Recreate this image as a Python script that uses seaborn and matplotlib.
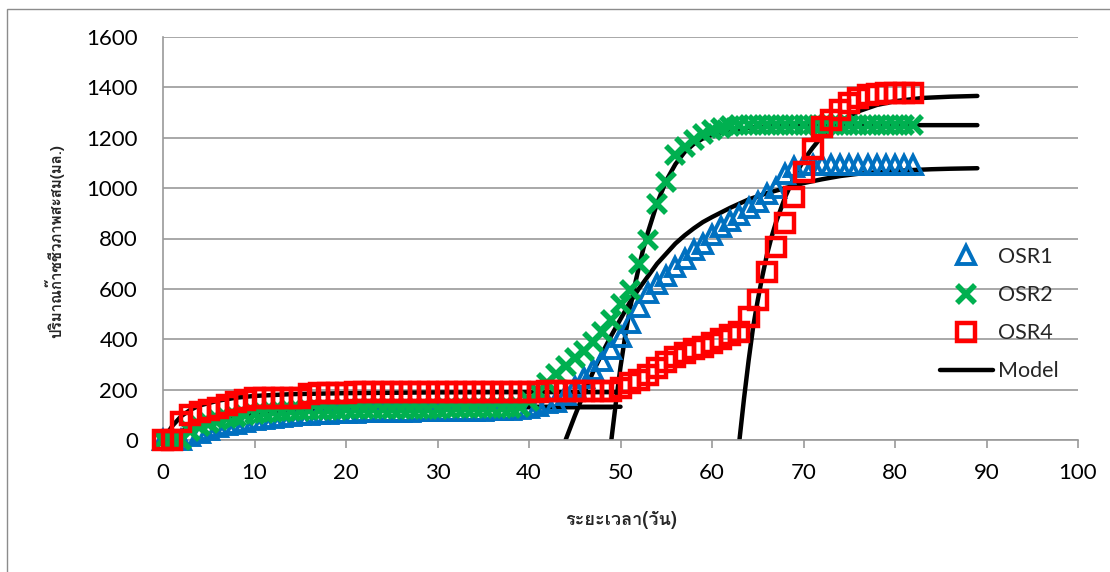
import matplotlib
matplotlib.use("Agg")
import matplotlib.pyplot as plt
from matplotlib import font_manager
from matplotlib.ft2font import FT2Font
from matplotlib.patches import Rectangle
from matplotlib.lines import Line2D
import seaborn as sns

# ---- measured cumulative biogas (ml) per day ----
days = list(range(0, 83))

osr1 = [0, 0, 0, 15, 28, 40, 50, 58, 65, 72,
        78, 83, 87, 91, 95, 98, 101, 103, 105, 107,
        108, 109, 110, 111, 112, 112, 113, 113, 114, 114,
        115, 115, 116, 116, 117, 117, 118, 119, 120, 123,
        128, 135, 145, 152, 180, 210, 245, 278, 315, 360,
        410, 465, 530, 585, 620, 650, 685, 720, 755, 780,
        815, 845, 870, 895, 920, 945, 975, 1000, 1055, 1085,
        1090, 1090, 1090, 1090, 1090, 1090, 1090, 1090, 1090, 1090,
        1090, 1090, 1090]

osr2 = [0, 0, 0, 35, 55, 68, 78, 86, 93, 99,
        104, 107, 110, 112, 114, 116, 118, 119, 120, 121,
        122, 122, 123, 123, 123, 124, 124, 124, 125, 125,
        125, 126, 126, 126, 127, 127, 127, 127, 128, 132,
        155, 190, 228, 262, 295, 325, 355, 390, 430, 476,
        540, 595, 700, 795, 935, 1025, 1130, 1165, 1190, 1215,
        1230, 1238, 1245, 1250, 1250, 1250, 1250, 1250, 1250, 1250,
        1250, 1250, 1250, 1250, 1250, 1250, 1250, 1250, 1250, 1250,
        1250, 1250, 1250]

osr4 = [0, 0, 73, 100, 113, 118, 128, 140, 150, 160,
        166, 166, 167, 167, 168, 168, 184, 186, 187, 188,
        188, 189, 189, 189, 190, 190, 190, 190, 190, 190,
        191, 191, 191, 191, 191, 192, 192, 192, 192, 192,
        192, 192, 193, 193, 193, 193, 193, 193, 193, 193,
        205, 225, 240, 260, 285, 310, 330, 345, 360, 370,
        385, 400, 415, 428, 490, 556, 668, 767, 860, 965,
        1065, 1157, 1243, 1270, 1310, 1336, 1356, 1370, 1375, 1376,
        1376, 1376, 1376]

# ---- fitted model curves (two phases per reactor) ----
m1a_x = [0, 2, 4, 6, 8, 10, 14, 18, 24, 30, 40, 50]
m1a_y = [0, 30, 55, 75, 90, 100, 113, 121, 127, 130, 132, 132]
m2a_x = [0, 2, 4, 6, 8, 10, 14, 18, 24, 30, 40, 49]
m2a_y = [0, 35, 62, 82, 96, 106, 116, 122, 126, 128, 130, 130]
m4a_x = [0, 1, 2, 3, 4, 6, 8, 10, 14, 20, 30, 40, 50]
m4a_y = [0, 55, 95, 120, 137, 156, 168, 175, 182, 186, 189, 190, 190]

m1b_x = [44, 45, 46, 47, 48, 49, 50, 51, 52, 53, 54, 55, 56, 57, 58, 59, 60,
         62, 64, 66, 68, 70, 72, 74, 76, 78, 80, 82, 84, 86, 89]
m1b_y = [0, 95, 185, 270, 345, 415, 480, 545, 600, 650, 700, 740, 780, 812,
         840, 865, 885, 922, 955, 980, 1000, 1020, 1035, 1048, 1057, 1063,
         1068, 1072, 1075, 1077, 1079]
m2b_x = [49, 49.5, 50, 50.5, 51, 51.5, 52, 52.5, 53, 54, 55, 56, 57, 58, 59,
         60, 62, 64, 66, 70, 75, 80, 89]
m2b_y = [0, 150, 290, 410, 515, 605, 685, 760, 825, 940, 1030, 1095, 1143,
         1175, 1197, 1212, 1230, 1240, 1245, 1249, 1250, 1250, 1250]
m4b_x = [63, 63.5, 64, 64.5, 65, 65.5, 66, 66.5, 67, 68, 69, 70, 71, 72, 74,
         76, 78, 80, 83, 86, 89]
m4b_y = [0, 165, 315, 450, 555, 650, 735, 805, 865, 965, 1045, 1110, 1160,
         1205, 1265, 1305, 1330, 1345, 1358, 1363, 1366]

series_labels = ["OSR1", "OSR2", "OSR4", "Model"]
x_ticks = list(range(0, 101, 10))
y_ticks = list(range(0, 1601, 200))
x_title = "ระยะเวลา(วัน)"
y_title = "ปริมาณก๊าซชีวภาพสะสม(มล.)"

BLUE = "#0070C0"
GREEN = "#00B050"
RED = "#FF0000"
GRID = "#9a9a9a"

TRI = dict(marker="^", markersize=13, markeredgewidth=2.8,
           markerfacecolor="none", markeredgecolor=BLUE)
CROSS = dict(marker="x", markersize=13.5, markeredgewidth=4.0,
             markeredgecolor=GREEN)
SQUARE = dict(marker="s", markersize=13.5, markeredgewidth=3.2,
              markerfacecolor="none", markeredgecolor=RED)


def thai_family():
    """Return the name of an installed font that can draw Thai."""
    for f in font_manager.fontManager.ttflist:
        try:
            cmap = FT2Font(f.fname).get_charmap()
        except Exception:
            continue
        if 0x0E1B in cmap and 0x0E32 in cmap:
            return f.name
    return "DejaVu Sans"


sns.set_theme(style="white")
plt.rcParams["font.family"] = ["Lato", "DejaVu Sans"]
thai = thai_family()

W, H = 1110, 572
fig = plt.figure(figsize=(W / 100, H / 100), dpi=100)
fig.patch.set_facecolor("white")

# chart border
fig.patches.append(Rectangle((7 / W, -0.05), 1.2, 1 - 9 / H + 0.05,
                             transform=fig.transFigure, fill=False,
                             edgecolor="#8c8c8c", lw=1.0))

ax = fig.add_axes([163 / W, 1 - 440 / H, (1078 - 163) / W, (440 - 37) / H])
ax.set_facecolor("white")

# model lines underneath the measured markers
for mx, my in [(m1a_x, m1a_y), (m2a_x, m2a_y), (m4a_x, m4a_y),
               (m1b_x, m1b_y), (m2b_x, m2b_y), (m4b_x, m4b_y)]:
    sns.lineplot(x=mx, y=my, ax=ax, color="black", lw=3.2,
                 solid_capstyle="round", zorder=2, legend=False)

common = dict(linestyle="", clip_on=False, legend=False)
sns.lineplot(x=days, y=osr1, ax=ax, color=BLUE, zorder=3, **TRI, **common)
sns.lineplot(x=days, y=osr2, ax=ax, color=GREEN, zorder=4, **CROSS, **common)
sns.lineplot(x=days, y=osr4, ax=ax, color=RED, zorder=5, **SQUARE, **common)

ax.set_xlim(0, 100)
ax.set_ylim(0, 1600)
ax.set_xticks(x_ticks)
ax.set_yticks(y_ticks)
ax.set_xticklabels([str(t) for t in x_ticks])
ax.set_yticklabels([str(t) for t in y_ticks])
ax.set_xlabel("")
ax.set_ylabel("")

ax.set_axisbelow(True)
ax.yaxis.grid(True, color=GRID, lw=1.2)
ax.xaxis.grid(False)
for side in ["top", "right"]:
    ax.spines[side].set_visible(False)
for side in ["left", "bottom"]:
    ax.spines[side].set_color(GRID)
    ax.spines[side].set_linewidth(1.2)

ax.tick_params(axis="x", length=5.8, width=1.2, color=GRID, pad=11,
               labelsize=16, labelcolor="black", direction="out", bottom=True)
ax.tick_params(axis="y", length=0, pad=18, labelsize=16, labelcolor="black")

# axis titles
fig.text(54 / W, 1 - 241 / H, y_title, rotation=90, ha="center", va="center",
         fontsize=10.8, fontweight="bold", family=[thai, "DejaVu Sans"])
fig.text(621 / W, 1 - 520 / H, x_title, ha="center", va="center",
         fontsize=13, fontweight="bold", family=[thai, "DejaVu Sans"])

# legend
handles = [
    Line2D([], [], ls="", **TRI),
    Line2D([], [], ls="", **CROSS),
    Line2D([], [], ls="", **SQUARE),
    Line2D([], [], color="black", lw=3.2, solid_capstyle="round"),
]
ax.legend(handles, series_labels, loc="upper left",
          bbox_to_anchor=(940 / W, 1 - 247 / H), bbox_transform=fig.transFigure,
          frameon=False, fontsize=15.5, handlelength=2.45, handletextpad=0.25,
          labelspacing=0.84, borderpad=0, borderaxespad=0)

fig.savefig("out.png", dpi=100, facecolor="white")
